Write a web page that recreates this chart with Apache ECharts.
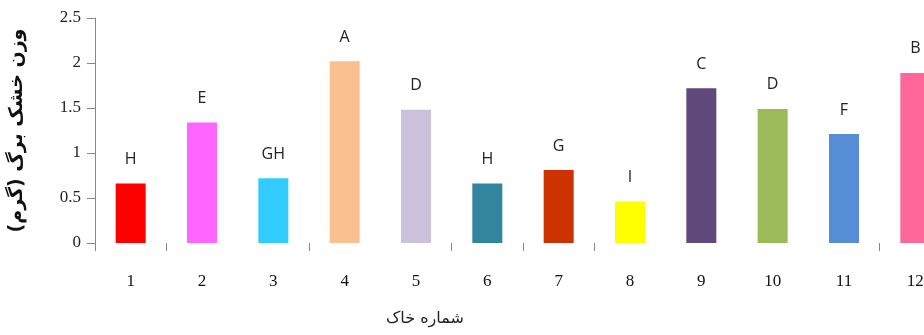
<!DOCTYPE html>
<html>
<head>
<meta charset="utf-8">
<script src="https://cdn.jsdelivr.net/npm/echarts@6/dist/echarts.min.js"></script>
<style>
html,body{margin:0;padding:0;background:#fff}
#main{width:924px;height:335px}
</style>
</head>
<body>
<div id="main"></div>
<script>
// soil number vs leaf dry weight
var soils = ['1','2','3','4','5','6','7','8','9','10','11','12']
var weights = [0.66, 1.34, 0.72, 2.02, 1.48, 0.66, 0.81, 0.46, 1.72, 1.49, 1.21, 1.89]
var letters = ['H','E','GH','A','D','H','G','I','C','D','F','B']
var colors = ['#FF0000','#FF66FF','#33CCFF','#FAC090','#CCC1DA','#31859C','#CC3300','#FFFF00','#604A7B','#9BBB59','#558ED5','#FF6699']
var yTicks = [0, 0.5, 1, 1.5, 2, 2.5]
var tickAt = [0, 1, 3, 5, 6, 7, 11]

var barData = weights.map(function(v, i){
    return {value: v, itemStyle: {color: colors[i]}, label: {formatter: letters[i]}}
})

var myChart = echarts.init(document.getElementById('main'))
myChart.setOption({
    backgroundColor: '#ffffff',
    animation: false,
    grid: {left: 95, top: 18, bottom: 92, width: 856, outerBoundsMode: 'none', containLabel: false},
    graphic: [{
        type: 'text',
        left: 386,
        top: 311,
        style: {text: 'شماره خاک', font: '16px "DejaVu Sans"', fill: '#222'}
    }],
    xAxis: {
        type: 'category',
        data: soils,
        axisLine: {show: false},
        axisTick: {
            show: true, length: 8, lineStyle: {color: '#888'},
            interval: function(i){ return tickAt.indexOf(i) >= 0 }
        },
        axisLabel: {margin: 30, color: '#111', fontFamily: 'Liberation Serif', fontSize: 17}
    },
    yAxis: {
        type: 'value',
        min: yTicks[0],
        max: yTicks[yTicks.length - 1],
        interval: 0.5,
        name: 'وزن خشک برگ (گرم)',
        nameLocation: 'middle',
        nameRotate: 90,
        nameGap: 68,
        nameTextStyle: {fontFamily: 'DejaVu Sans', fontSize: 19, fontWeight: 'bold', color: '#111'},
        splitLine: {show: false},
        axisLine: {show: true, lineStyle: {color: '#888'}},
        axisTick: {show: true, length: 8, lineStyle: {color: '#888'}},
        axisLabel: {margin: 14, color: '#222', fontFamily: 'Liberation Serif', fontSize: 17}
    },
    series: [{
        type: 'bar',
        data: barData,
        barWidth: 30,
        label: {
            show: true,
            position: 'top',
            distance: 16,
            color: '#222',
            fontFamily: 'Open Sans',
            fontSize: 16
        }
    }]
})
</script>
</body>
</html>
